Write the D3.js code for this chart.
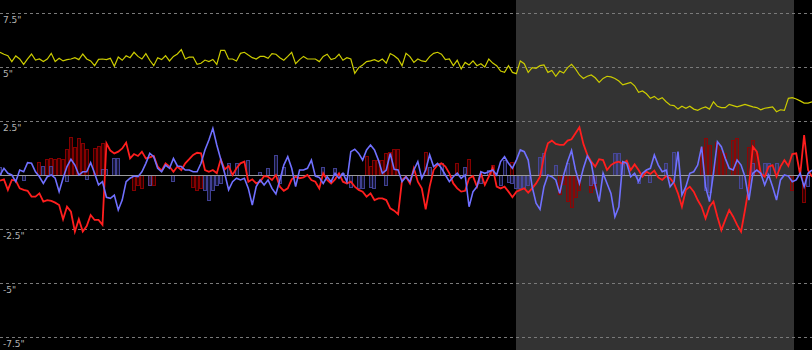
<!DOCTYPE html>
<html>
<head>
<meta charset="utf-8">
<script src="https://cdn.jsdelivr.net/npm/d3@7"></script>
<style>
  html, body { margin: 0; padding: 0; background: #000; }
  svg { display: block; }
</style>
</head>
<body>
<div class="canvas"></div>
<script>
// y ticks (inches)
const yTicks = [7.5, 5, 2.5, 0, -2.5, -5, -7.5];

// shaded session, as indexes into the series
const shadeFrom = 131;
const shadeTo = 201.5;

const yellow = [
  5.68,5.59,5.52,5.25,5.51,5.37,5.12,5.37,5.60,5.32,
  5.37,5.25,5.37,5.63,5.25,5.40,5.28,5.34,5.37,5.43,
  5.34,5.60,5.37,5.28,5.06,5.35,5.37,5.34,5.40,5.03,
  5.46,5.31,5.52,5.43,5.68,5.49,5.37,5.62,5.31,5.06,
  5.43,5.34,5.52,5.28,5.49,5.60,5.80,5.37,5.46,5.46,
  5.12,5.17,5.32,5.25,5.35,5.12,5.77,5.77,5.37,5.37,
  5.28,5.63,5.68,5.55,5.43,5.37,5.49,5.49,5.40,5.62,
  5.59,5.43,5.31,5.49,5.68,5.15,5.34,5.49,5.37,5.37,
  5.37,5.25,5.49,5.59,5.34,5.40,5.59,5.31,5.43,5.37,
  4.71,4.97,5.09,5.25,5.28,5.34,5.25,5.37,5.18,5.62,
  5.52,5.37,5.06,5.63,
  5.48,5.21,5.37,5.28,5.25,5.48,5.63,5.68,5.59,5.34,
  5.37,5.06,5.31,4.91,5.21,5.09,5.28,5.06,5.15,5.00,
  5.37,5.18,5.06,4.81,4.75,5.06,4.75,4.69,5.28,5.15,
  4.75,4.97,4.94,5.06,5.09,4.75,4.84,4.57,4.81,4.72,
  4.97,5.12,4.91,4.63,4.47,4.57,4.63,4.50,4.29,4.47,
  4.57,4.54,4.47,4.35,4.17,4.23,4.29,4.13,3.83,3.89,
  3.76,3.55,3.64,3.49,3.58,3.39,3.24,3.21,3.05,3.18,
  3.09,3.18,3.05,2.99,3.09,3.15,3.05,3.39,3.18,3.12,
  3.12,3.27,3.21,3.15,3.21,3.27,3.21,3.15,3.12,3.02,
  3.09,3.12,3.15,2.93,3.02,2.99,3.55,3.58,3.52,3.43,
  3.33,3.33,3.39
];

const red = [
  -0.26,-0.20,-0.69,-0.23,-0.26,-0.62,-0.69,-0.73,-1.00,
  -1.00,-0.85,-1.23,-1.16,-1.20,-1.28,-1.39,-2.05,-1.47,-1.70,
  -2.62,-2.05,-2.62,-2.36,-1.85,-2.08,-2.08,-2.31,1.47,1.13,
  1.00,1.08,1.23,1.50,0.77,0.97,0.88,1.08,0.77,0.82,
  0.88,0.39,0.20,0.54,0.39,0.15,0.39,0.23,0.54,0.73,
  0.93,1.03,1.00,0.23,0.15,0.23,0.08,0.73,0.26,0.42,
  0.00,0.31,0.54,0.62,-0.31,-0.20,-0.39,-0.31,-0.05,
  -0.08,-0.23,0.00,-0.54,-0.73,-0.62,-0.20,-0.08,-0.15,-0.11,
  0.00,-0.23,-0.31,-0.62,0.08,-0.23,-0.39,-0.20,0.08,
  -0.31,-0.39,-0.31,-0.54,-0.69,-0.77,-1.00,-0.85,-1.16,-1.08,
  -1.08,-1.16,-1.54,-1.65,-1.81,-0.23,-0.08,
  -0.39,0.31,-0.31,-0.62,-1.59,-0.54,0.23,0.46,0.54,0.39,
  0.08,-0.39,-0.62,-0.77,-0.73,-0.15,-0.05,-0.54,0.08,-0.46,
  -0.08,0.34,-0.54,-0.62,-0.54,-0.77,-1.03,-0.77,-0.69,-0.62,
  -0.82,-0.62,-0.39,-0.08,0.85,1.47,1.59,1.44,1.39,1.39,
  1.59,1.65,1.93,2.21,1.44,0.93,0.62,0.39,0.73,0.69,
  0.23,0.46,0.57,0.62,0.51,0.66,0.23,0.49,0.23,-0.08,
  0.15,0.05,0.20,-0.11,-0.23,-0.05,
  -0.15,-0.39,-0.85,-1.47,-0.69,-0.54,-0.77,-1.16,-1.47,-2.01,
  -1.47,-1.23,-1.93,-2.55,-2.08,-1.62,-1.93,-2.31,-2.62,-1.62,
  -0.54,1.31,1.08,0.08,-0.08,0.39,0.46,-0.08,0.39,0.69,
  0.42,0.97,1.00,0.00,1.85,0.23,-0.08
];

const blue = [
  0.00,0.31,0.08,0.00,-0.31,0.23,0.15,0.57,0.54,0.15,
  -0.08,-0.39,-0.08,0.00,-0.15,-0.77,-0.15,0.39,0.73,0.46,
  0.00,0.15,0.15,0.57,0.08,-0.46,-0.31,-1.03,-1.08,-0.93,
  -1.62,-1.16,-0.31,-0.15,-0.05,-0.08,0.15,0.54,1.00,
  0.85,0.31,0.15,0.46,0.31,0.77,0.42,0.39,0.23,0.23,
  0.15,0.15,0.54,1.16,1.62,2.16,1.39,0.73,0.08,-0.69,
  -0.31,-0.15,-0.23,-0.15,-0.62,-1.39,-0.54,-0.23,-0.46,-0.23,
  -0.62,-0.88,-0.23,0.46,0.85,0.31,-0.54,0.23,0.23,0.31,
  0.69,-0.05,-0.11,-0.39,-0.08,-0.31,0.08,-0.15,0.08,
  -0.31,1.08,1.19,1.00,0.69,1.16,1.39,1.16,0.69,0.08,
  0.23,1.00,0.26,0.23,-0.31,-0.08,
  -0.31,0.23,0.62,-0.15,0.23,0.93,0.39,0.54,0.31,0.00,
  -0.31,-0.08,0.08,-0.15,0.00,-1.47,-0.77,-0.54,0.15,0.08,
  0.15,0.23,0.00,0.62,0.85,0.54,0.31,0.69,1.16,1.08,
  0.69,-0.54,-1.31,-1.59,-0.54,0.00,-0.08,-0.23,-0.85,0.00,
  0.62,1.13,0.23,-0.39,0.31,0.88,0.54,-0.46,-1.23,0.08,
  -0.39,-0.85,-1.93,-1.47,0.62,0.54,-0.08,0.08,-0.31,0.08,
  0.23,0.31,0.93,0.46,0.15,0.23,-0.54,-0.31,1.08,-0.93,
  -0.54,0.08,0.15,0.46,1.31,-0.54,-1.23,0.08,1.54,1.31,
  0.77,0.31,0.23,0.69,0.46,-0.08,-1.16,0.08,0.23,0.08,
  -0.46,0.00,-0.54,-1.16,-0.23,0.00,-0.05,-0.31,-0.23,
  0.08,-0.54,0.08,0.23
];

const redBars = [
  0,0,0,0,0,0,0,0,0,0,
  0.62,0,0.73,0.77,0.73,0.77,0.73,1.2,1.75,1.3,
  1.7,1.47,1.2,0,1.23,1.35,1.5,0,0,0,
  0,0,0,0,-0.7,-0.46,-0.62,0,-0.46,-0.46,
  0,0,0,0,0,0,0,0,0,-0.54,
  -0.7,-0.62,0,0,0,0,0,0,0,0,
  0,0,0,0,0,0,0,0,0,0,
  0,0,0,0,0,0,0,0,0,0,
  0,0,0,0,0,0,0,0,0,0,
  0,0,0,0.88,0.4,0.69,0.69,0.69,1.0,1.08,
  1.19,1.2,0,0,0,0,0,0,1.08,0,
  0,0,0,0,0,0,0.54,0,0,0.73,
  0,0,0,0,0,0.46,0,0,0,0,
  0.62,0,0,0,0,0,0,0,0,0,
  0,0,-0.9,-0.4,-1.2,-1.47,-1.0,-0.7,0,0,
  -0.8,-0.6,0,0,0,0,0,0,0,0,
  0,0,0,0,0,0,0,0,0,0,
  0,0,0,0,0,0,0,0,1.31,1.7,
  1.39,0,1.54,1.16,1.0,0,1.62,1.7,0,0,
  1.31,1.62,1.0,0,0,0,0,0,0,0,
  0,-0.7,0,0,-1.25,0,0
];

const blueBars = [
  0.35,0,0,0,0,0,-0.23,0,0,0,
  0,0.4,0,0.4,0,0,0,-0.3,0,0,
  0,0,-0.2,0,0,0,0.3,0.3,0,0.77,
  0.77,0,0,0,0,0,0,0,-0.46,0,
  0,0,0,0,-0.3,0,0,0,0,0,
  0,0,-0.7,-1.16,-0.7,-0.46,-0.39,0,0.57,0,
  0.57,0,0,0.69,0,0,0.15,0,0.31,0,
  0.93,-0.39,0.39,0,0,0,0,0,0,0,
  0,0,0.39,0,0,0.31,0,0.1,0,-0.54,
  0,-0.62,-0.62,0,-0.54,-0.62,0,0,-0.46,0,
  0,0,0,0,0,0,0,0,0,0.39,
  0,0,0.54,0,0,0,0,0,0.39,0,
  0,0,-0.39,0,0.23,0,0,-0.46,0.69,-0.31,
  -0.35,-0.62,-0.62,-0.62,-0.46,0,0,0.85,1.0,0,
  0,0.46,0,0,0.54,0,0,0,0,0,
  -0.46,-0.39,0,0,0,0,1.0,1.0,0.54,0,
  0,0,-0.39,0,0,-0.31,0,0,0,0.54,
  0,1.08,0,0,0,0,0,0,0,-0.69,
  -0.77,0,0,0,0,0,0,0,-0.62,0,
  0,0.54,0,0,0.54,0.54,0,0.54,0,0,
  0,0,0,0,0,-0.5,0
];

const dimension = { width: 812, height: 350 };
const n = yellow.length;

const svg = d3.select('.canvas')
    .append('svg')
    .attr('width', dimension.width)
    .attr('height', dimension.height)
    .style('background', '#000');

const x = d3.scaleLinear()
    .domain([0, n - 1])
    .range([0, dimension.width]);

const y = d3.scaleLinear()
    .domain([-8.1, 8.1])
    .range([dimension.height, 0]);

const step = x(1) - x(0);

// shaded session
svg.append('rect')
    .attr('x', Math.round(x(shadeFrom)))
    .attr('y', 0)
    .attr('width', Math.round(x(shadeTo) - x(shadeFrom)))
    .attr('height', dimension.height)
    .attr('fill', '#333333');

// grid
const grid = svg.append('g');
grid.selectAll('line')
    .data(yTicks.filter(d => d !== 0))
    .enter()
    .append('line')
        .attr('x1', 0)
        .attr('x2', dimension.width)
        .attr('y1', d => Math.round(y(d)) + 0.5)
        .attr('y2', d => Math.round(y(d)) + 0.5)
        .attr('stroke', '#7a7a7a')
        .attr('stroke-dasharray', '3,3');

grid.selectAll('text')
    .data(yTicks.filter(d => d !== 0))
    .enter()
    .append('text')
        .attr('x', 3)
        .attr('y', d => Math.round(y(d)) + 10)
        .attr('fill', '#b4b4b4')
        .attr('font-family', 'DejaVu Sans, sans-serif')
        .attr('font-size', 9)
        .text(d => `${d}"`);

// histogram bars
const drawBars = (data, colour) => {
    svg.append('g')
        .selectAll('rect')
        .data(data.map((v, i) => ({ v, i })).filter(d => d.v !== 0))
        .enter()
        .append('rect')
            .attr('x', d => Math.round(x(d.i) - step / 2) + 0.5)
            .attr('y', d => Math.round(y(Math.max(0, d.v))) + 0.5)
            .attr('width', Math.round(step) - 1)
            .attr('height', d => Math.abs(Math.round(y(d.v)) - Math.round(y(0))))
            .attr('fill', colour)
            .attr('fill-opacity', 0.3)
            .attr('stroke', colour)
            .attr('stroke-opacity', 0.85)
            .attr('stroke-width', 1);
};
drawBars(redBars, '#990000');
drawBars(blueBars, '#4a4aa8');

// zero line
svg.append('line')
    .attr('x1', 0)
    .attr('x2', dimension.width)
    .attr('y1', Math.round(y(0)) + 0.5)
    .attr('y2', Math.round(y(0)) + 0.5)
    .attr('stroke', '#9a9a9a');

const line = d3.line()
    .x((d, i) => x(i))
    .y(d => y(d));

svg.append('path')
    .datum(yellow)
    .attr('d', line)
    .attr('fill', 'none')
    .attr('stroke', '#cccc00')
    .attr('stroke-width', 1.2);

svg.append('path')
    .datum(red)
    .attr('d', line)
    .attr('fill', 'none')
    .attr('stroke', '#ff1e1e')
    .attr('stroke-width', 1.8);

svg.append('path')
    .datum(blue)
    .attr('d', line)
    .attr('fill', 'none')
    .attr('stroke', '#7070ff')
    .attr('stroke-width', 1.6);
</script>
</body>
</html>
